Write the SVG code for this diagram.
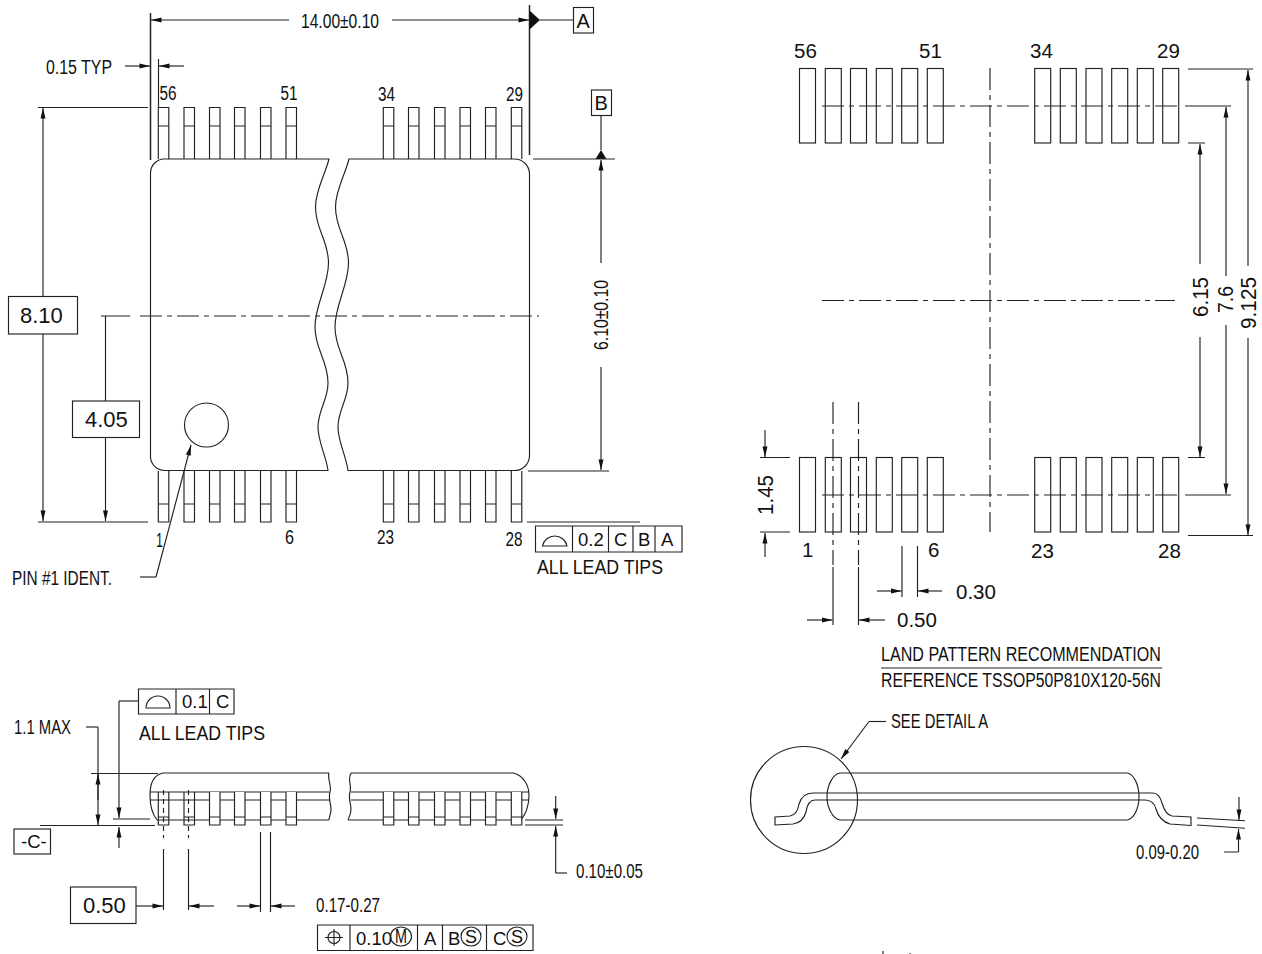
<svg xmlns="http://www.w3.org/2000/svg" width="1262" height="954" viewBox="0 0 1262 954">
<style>
text{font-family:"Liberation Sans",Arial,sans-serif;fill:#111;font-size:18.5px}
text[textLength]{font-size:20px}
.m{font-size:20.500px}
text.r{font-size:21.500px}
.b{font-size:22px}
.s{font-size:18px}
text.l{font-size:20px}
path,rect,circle,ellipse{fill:none;stroke:#222;stroke-width:1.15}
.h{stroke-width:1.5}
.f{fill:#111;stroke:none}
.a{marker-end:url(#ar)}
.c{stroke-dasharray:22 5 5 5}
.sh{stroke-dasharray:5 4}
#lead-s path{fill:inherit}
.o{fill:#fff}
.n{fill:none}
</style>
<defs>
<marker id="ar" markerUnits="userSpaceOnUse" markerWidth="12" markerHeight="8" viewBox="-11 -4 12 8" refX="0" refY="0" orient="auto"><path d="M0 0L-10.500 -2.500L-10.500 2.500Z" style="fill:#111;stroke:none"/></marker>
<g id="lead-t"><path d="M0 159V107.500H10.500V159M0 126H10.500"/></g>
<g id="lead-b"><path d="M0 471V522H10.500V471M0 504H10.500"/></g>
<g id="lead-s"><path d="M0 792V825H10.500V792M0 817H10.500"/></g>
<rect id="pad" x="0" y="0" width="16" height="74.500"/>
</defs>

<g id="top-view">
<path d="M329 159H164A14 14 0 0 0 150.500 173V456A14 14 0 0 0 164.500 470.500H328C326 455 318 442 318 427C318 410 328 400 328 383C328 360 315 350 315 327C315 305 328.500 285 328.500 263C328.500 240 315.500 230 315.500 207C315.500 190 325 175 329 159Z"/>
<path d="M349 159H514A15 15 0 0 1 529.500 174V456A15 15 0 0 1 514 470.500H348C346 455 338 442 338 427C338 410 348 400 348 383C348 360 335 350 335 327C335 305 348.500 285 348.500 263C348.500 240 335.500 230 335.500 207C335.500 190 345 175 349 159Z"/>
<use href="#lead-t" x="158.300"/><use href="#lead-t" x="184"/><use href="#lead-t" x="209.500"/><use href="#lead-t" x="234.500"/><use href="#lead-t" x="260.500"/><use href="#lead-t" x="286"/>
<use href="#lead-t" x="383.300"/><use href="#lead-t" x="408.500"/><use href="#lead-t" x="434.500"/><use href="#lead-t" x="460"/><use href="#lead-t" x="485.500"/><use href="#lead-t" x="511.300"/>
<use href="#lead-b" x="158.300"/><use href="#lead-b" x="184"/><use href="#lead-b" x="209.500"/><use href="#lead-b" x="234.500"/><use href="#lead-b" x="260.500"/><use href="#lead-b" x="286"/>
<use href="#lead-b" x="383.300"/><use href="#lead-b" x="408.500"/><use href="#lead-b" x="434.500"/><use href="#lead-b" x="460"/><use href="#lead-b" x="485.500"/><use href="#lead-b" x="511.300"/>
<circle cx="206.500" cy="425" r="22"/>
<text x="159.500" y="100" textLength="17" lengthAdjust="spacingAndGlyphs">56</text>
<text x="280.500" y="100" textLength="17" lengthAdjust="spacingAndGlyphs">51</text>
<text x="378" y="101" textLength="17" lengthAdjust="spacingAndGlyphs">34</text>
<text x="506" y="101" textLength="17" lengthAdjust="spacingAndGlyphs">29</text>
<text x="156" y="547" textLength="7" lengthAdjust="spacingAndGlyphs">1</text>
<text x="285" y="544" textLength="9" lengthAdjust="spacingAndGlyphs">6</text>
<text x="377" y="544" textLength="17" lengthAdjust="spacingAndGlyphs">23</text>
<text x="505.500" y="546" textLength="17" lengthAdjust="spacingAndGlyphs">28</text>
<text x="301" y="28" textLength="78" lengthAdjust="spacingAndGlyphs">14.00±0.10</text>
<text x="46" y="73.500" textLength="66" lengthAdjust="spacingAndGlyphs">0.15 TYP</text>
<text transform="translate(608 350) rotate(-90)" textLength="70" lengthAdjust="spacingAndGlyphs">6.10±0.10</text>
<text x="12" y="585" textLength="100" lengthAdjust="spacingAndGlyphs">PIN #1 IDENT.</text>
</g>

<g id="top-view-dims">
<path class="h" d="M150.500 13V160M529.500 5V155"/>
<path d="M158.500 59V107"/>
<path class="a" d="M289 20H151"/>
<path class="a" d="M392 20H529"/>
<path class="f" d="M529.500 10.500L540 20L529.500 29.500Z"/>
<path d="M540 20H573"/>
<path class="a" d="M125 66H150"/>
<path class="a" d="M184 66H159"/>
<path d="M38 107.500H148M38 522H148M101 316H130"/>
<path class="a" d="M43 296V108"/>
<path class="a" d="M43 334V521"/>
<path d="M105.500 316V401"/>
<path class="a" d="M105.500 437V521"/>
<path class="c" d="M140 316H539"/>
<path d="M601 115V150"/>
<path class="f" d="M601 150L606.500 159H595.500Z"/>
<path d="M533 159H615M528 471H609M527 522H640"/>
<path class="a" d="M601 263V160"/>
<path class="a" d="M601 367V470"/>
<path d="M140 577H156"/>
<path class="a" d="M156 577L191 445"/>
</g>

<g id="label-a"><rect x="573.500" y="7.500" width="20" height="25.500"/><text class="l" x="576.500" y="27.500">A</text></g>
<g id="label-b"><rect x="591.500" y="90" width="20" height="25.500"/><text class="l" x="594.500" y="110">B</text></g>
<g id="dim-810"><rect x="8.500" y="296.500" width="69" height="37.500"/><text class="b" x="20" y="323">8.10</text></g>
<g id="dim-405"><rect x="72.500" y="401" width="67" height="36.500"/><text class="b" x="85" y="427">4.05</text></g>

<g id="fcf-top">
<path d="M535.500 526H682V552H535.500ZM572.500 526V552M608.500 526V552M633 526V552M655 526V552"/>
<path d="M542.500 546H567A12.500 12.500 0 0 0 542.500 546Z"/>
<text x="578" y="546">0.2</text><text x="614" y="546">C</text><text x="638" y="546">B</text><text x="661" y="546">A</text>
<text x="537" y="574" textLength="126" lengthAdjust="spacingAndGlyphs">ALL LEAD TIPS</text>
</g>

<g id="side-view">
<path d="M329 773H163C153 775 150 785 150 795C150 806 153 815 157 820M150 792H329M150 800H330M157 820H329M329 773C327 779 332 785 330 792C328 798 331 804 331 809C331 814 329 817 329 820"/>
<path d="M351 773H513C523 775 529 785 529 795C529 806 525 815 521 820H348M351 792H529M351 800H529M351 773C347 779 352 785 350 792C348 798 351 804 351 809C351 814 349 817 348 820"/>
<use class="n" href="#lead-s" x="158.300"/><use class="n" href="#lead-s" x="184"/>
<g class="o"><use href="#lead-s" x="209.500"/><use href="#lead-s" x="234.500"/><use href="#lead-s" x="260.500"/><use href="#lead-s" x="286"/>
<use href="#lead-s" x="383.300"/><use href="#lead-s" x="408.500"/><use href="#lead-s" x="434.500"/><use href="#lead-s" x="460"/><use href="#lead-s" x="485.500"/><use href="#lead-s" x="511.300"/></g>
<text x="14" y="733.500" textLength="57" lengthAdjust="spacingAndGlyphs">1.1 MAX</text>
<text x="139" y="740" textLength="126" lengthAdjust="spacingAndGlyphs">ALL LEAD TIPS</text>
<text x="316" y="912" textLength="64" lengthAdjust="spacingAndGlyphs">0.17-0.27</text>
<text x="576" y="878" textLength="67" lengthAdjust="spacingAndGlyphs">0.10±0.05</text>
</g>

<g id="side-view-dims">
<path d="M91 773.500H158M40 825.500H155M113 819H150"/>
<path d="M86 727H98"/>
<path class="a" d="M98 727V825"/>
<path class="a" d="M98 800V774"/>
<path d="M138 701H119"/>
<path class="a" d="M119 701V818"/>
<path class="a" d="M119 848V827"/>
<path class="sh" d="M163.500 790V838M188.500 790V838"/>
<path d="M163.500 849V910M188.500 849V910M260.500 832V912M270.500 832V912"/>
<path class="a" d="M136 906H163"/>
<path class="a" d="M214 906H189"/>
<path class="a" d="M237 906H260"/>
<path class="a" d="M295 906H271"/>
<path d="M525 820H563M525 825H563"/>
<path class="a" d="M555.700 796V819"/>
<path d="M567 873H555.700"/>
<path class="a" d="M555.700 873V826"/>
</g>

<g id="fcf-side">
<path d="M138.500 689H234V714H138.500ZM176 689V714M209.500 689V714"/>
<path d="M146 708H170A12 12 0 0 0 146 708Z"/>
<text x="182" y="708">0.1</text><text x="216" y="708">C</text>
</g>
<g id="label-c"><rect x="14" y="829" width="36.500" height="25"/><text x="21" y="848">-C-</text></g>
<g id="dim-050"><rect x="70.500" y="887" width="65.500" height="36.500"/><text class="b" x="83" y="913">0.50</text></g>

<g id="fcf-pos">
<path d="M317.500 925H533V950.500H317.500ZM350 925V950.500M417.500 925V950.500M442.500 925V950.500M486.500 925V950.500"/>
<circle cx="334" cy="937.500" r="6"/><path d="M325 937.500H343M334 929V946"/>
<text x="356" y="945">0.10</text>
<ellipse cx="401" cy="936.500" rx="10.500" ry="9.500"/><text class="s" x="395" y="943" textLength="12" lengthAdjust="spacingAndGlyphs">M</text>
<text x="424" y="945">A</text>
<text x="448" y="945">B</text>
<ellipse cx="471" cy="936.500" rx="10" ry="9.500"/><text class="s" x="465" y="943">S</text>
<text x="493" y="945">C</text>
<ellipse cx="517" cy="936.500" rx="10" ry="9.500"/><text class="s" x="511" y="943">S</text>
</g>

<g id="land-pattern">
<use href="#pad" x="799.500" y="68.500"/><use href="#pad" x="825.300" y="68.500"/><use href="#pad" x="850.500" y="68.500"/><use href="#pad" x="876.300" y="68.500"/><use href="#pad" x="901.700" y="68.500"/><use href="#pad" x="927.300" y="68.500"/>
<use href="#pad" x="1034.700" y="68.500"/><use href="#pad" x="1060.300" y="68.500"/><use href="#pad" x="1086" y="68.500"/><use href="#pad" x="1111.700" y="68.500"/><use href="#pad" x="1137.300" y="68.500"/><use href="#pad" x="1162.700" y="68.500"/>
<use href="#pad" x="799.500" y="457.500"/><use href="#pad" x="825.300" y="457.500"/><use href="#pad" x="850.500" y="457.500"/><use href="#pad" x="876.300" y="457.500"/><use href="#pad" x="901.700" y="457.500"/><use href="#pad" x="927.300" y="457.500"/>
<use href="#pad" x="1034.700" y="457.500"/><use href="#pad" x="1060.300" y="457.500"/><use href="#pad" x="1086" y="457.500"/><use href="#pad" x="1111.700" y="457.500"/><use href="#pad" x="1137.300" y="457.500"/><use href="#pad" x="1162.700" y="457.500"/>
<path class="c" d="M822 106H1178M822 495H1178M822 300.500H1175M990 68V532M833 402V565M858.500 402V565"/>
<text class="m" x="794" y="58">56</text><text class="m" x="919" y="58">51</text><text class="m" x="1030" y="58">34</text><text class="m" x="1157" y="58">29</text>
<text class="m" x="802" y="557">1</text><text class="m" x="928" y="557">6</text><text class="m" x="1031" y="558">23</text><text class="m" x="1158" y="558">28</text>
<text class="m" x="956" y="599">0.30</text><text class="m" x="897" y="627">0.50</text>
<text class="r" transform="translate(773 515) rotate(-90)" textLength="40" lengthAdjust="spacingAndGlyphs">1.45</text>
<text class="r" transform="translate(1208 317) rotate(-90)" textLength="40" lengthAdjust="spacingAndGlyphs">6.15</text>
<text class="r" transform="translate(1233 313) rotate(-90)" textLength="27" lengthAdjust="spacingAndGlyphs">7.6</text>
<text class="r" transform="translate(1256 329) rotate(-90)" textLength="52" lengthAdjust="spacingAndGlyphs">9.125</text>
<text x="881" y="661" textLength="280" lengthAdjust="spacingAndGlyphs">LAND PATTERN RECOMMENDATION</text>
<text x="881" y="687" textLength="280" lengthAdjust="spacingAndGlyphs">REFERENCE TSSOP50P810X120-56N</text>
</g>

<g id="land-pattern-dims">
<path d="M1188 69H1253M1188 143H1205M1188 457.500H1205M1185 106H1231M1185 495H1231M1188 535.500H1253M760 457.500H790M760 532H790M881 668H1162"/>
<path class="a" d="M1200 264V144"/><path class="a" d="M1200 337V457"/>
<path class="a" d="M1226 276V107"/><path class="a" d="M1226 325V494"/>
<path class="a" d="M1248 266V70"/><path class="a" d="M1248 338V535"/>
<path class="a" d="M765 430V457"/><path class="a" d="M765 557V533"/>
<path d="M833 567V625M858.500 567V625M902 546V597M917.500 546V597"/>
<path class="a" d="M807 620H832.500"/><path class="a" d="M885 620H859"/>
<path class="a" d="M877 591H901.500"/><path class="a" d="M942 591H918"/>
</g>

<g id="profile">
<circle cx="804" cy="800" r="53.500"/>
<path d="M840 773H1127C1134 774 1139 785 1139 797C1139 808 1134 819 1127 820H840C833 819 827 808 827 797C827 785 833 774 840 773Z"/>
<path d="M1153 793H813C806 793 801 797 799 804C798 810 796 815 790 816L775 817V825L793 824C800 823 804 819 806 812C807 805 809 800 815 800H1145C1151 800 1155 804 1156 809C1158 816 1163 822 1170 824L1191 825.500V817L1172 816C1167 815 1164 810 1162 803C1160 796 1157 793 1153 793Z"/>
<text x="891" y="728" textLength="97" lengthAdjust="spacingAndGlyphs">SEE DETAIL A</text>
<text x="1136" y="858.500" textLength="63" lengthAdjust="spacingAndGlyphs">0.09-0.20</text>
<path d="M886 721.500H869"/>
<path class="a" d="M869 721.500L841 759"/>
<path d="M1197 818L1245 820.700M1197 825L1245 828.300M1224 852H1238.500"/>
<path class="a" d="M1239 797V820"/>
<path class="a" d="M1238.500 852V829"/>
<path d="M883 951V954M910 953V954"/>
</g>
</svg>
